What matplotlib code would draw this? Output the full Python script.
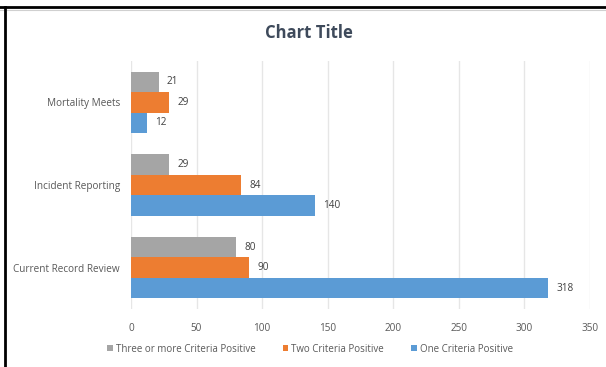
import matplotlib.pyplot as plt
import numpy as np
from matplotlib.lines import Line2D

categories = ["Current Record Review", "Incident Reporting", "Mortality Meets"]
three_plus = [80, 29, 21]
two_crit = [90, 84, 29]
one_crit = [318, 140, 12]
series_names = ["Three or more Criteria Positive", "Two Criteria Positive", "One Criteria Positive"]
xticks = [0, 50, 100, 150, 200, 250, 300, 350]

plt.rcParams['font.family'] = ['Open Sans', 'DejaVu Sans']

fig = plt.figure(figsize=(6.06, 3.67), dpi=100)
ax = fig.add_axes([131 / 606, 1 - 309 / 367, 459 / 606, 248 / 367])

y = np.arange(len(categories))
h = 0.248
colors = ["#A5A5A5", "#ED7D31", "#5B9BD5"]
data = [three_plus, two_crit, one_crit]
offsets = [h, 0, -h]

for vals, off, col, name in zip(data, offsets, colors, series_names):
    bars = ax.barh(y + off, vals, height=h, color=col, label=name, zorder=3)
    for b, v in zip(bars, vals):
        ax.annotate(str(v), (v, b.get_y() + b.get_height() / 2), xytext=(6, 0),
                    textcoords="offset points", va="center", ha="left",
                    fontsize=7.2, color="#404040")

ax.set_xlim(0, 350)
ax.set_ylim(-0.5, 2.5)
ax.set_xticks(xticks)
ax.set_yticks(y)
ax.set_yticklabels(categories)
ax.tick_params(axis="both", length=0, labelsize=7.2, labelcolor="#595959")
ax.tick_params(axis="x", pad=10)
ax.tick_params(axis="y", pad=8)
ax.grid(axis="x", color="#E6E6E6", linewidth=1, zorder=0)
for s in ax.spines.values():
    s.set_visible(False)

fig.text(309 / 606, 1 - 33 / 367, "Chart Title", ha="center", va="center",
         fontsize=12, fontweight="bold", color="#3E4A5B")

ax.legend(loc="center", bbox_to_anchor=(310 / 606, 1 - 349 / 367),
          bbox_transform=fig.transFigure, ncol=3, frameon=False,
          fontsize=7, labelcolor="#595959", handlelength=0.6, handleheight=0.6,
          handletextpad=0.3, columnspacing=2.8)

# outer frame lines (top and left)
fig.add_artist(Line2D([0, 1], [1 - 7 / 367, 1 - 7 / 367], color="black", linewidth=2,
                      transform=fig.transFigure))
fig.add_artist(Line2D([0, 1], [1 - 9.5 / 367, 1 - 9.5 / 367], color="#D0D0D0", linewidth=0.8,
                      transform=fig.transFigure))
fig.add_artist(Line2D([5 / 606, 5 / 606], [0, 1 - 7 / 367], color="black", linewidth=2,
                      transform=fig.transFigure))

fig.savefig("out.png", dpi=100)
